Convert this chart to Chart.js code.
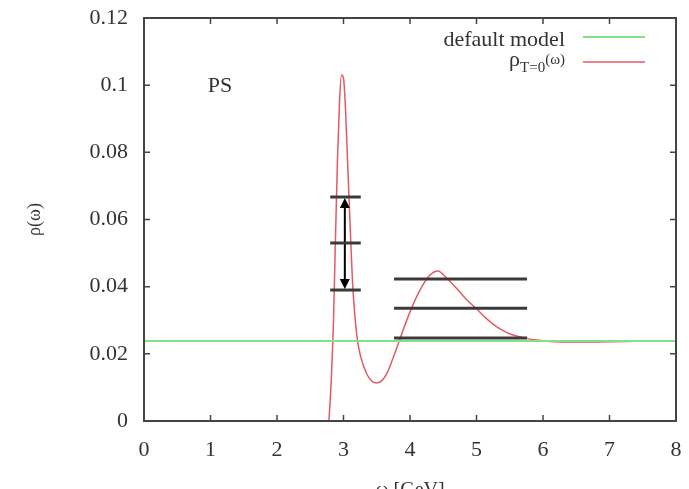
<!DOCTYPE html>
<html>
<head>
<meta charset="utf-8">
<script src="https://cdn.jsdelivr.net/npm/chart.js@4.4.0/dist/chart.umd.min.js"></script>
<style>
  body { margin: 0; background: #fff; }
  #wrap { width: 689px; height: 489px; }
</style>
</head>
<body>
<div id="wrap"><canvas id="c" width="689" height="489"></canvas></div>
<script>
// spectral function rho_T=0(omega)
const omega = [2.76, 2.78, 2.82, 2.85, 2.88, 2.91, 2.94, 2.97, 3.00, 3.03, 3.06, 3.10, 3.14, 3.20, 3.26,
               3.35, 3.42, 3.50, 3.58, 3.66, 3.75, 3.85, 4.00, 4.15, 4.30, 4.42, 4.55, 4.70, 4.85, 5.00, 5.15,
               5.30, 5.45, 5.60, 5.75, 5.90, 6.10, 6.50, 7.00, 7.50, 8.00];
const rho = [-0.004, 0.0, 0.014, 0.030, 0.055, 0.078, 0.095, 0.103, 0.102, 0.093, 0.078, 0.058, 0.040, 0.0255, 0.0190,
             0.0140, 0.0120, 0.0113, 0.0121, 0.0145, 0.0190, 0.0245, 0.0325, 0.0390, 0.0435, 0.0447, 0.0426, 0.0395, 0.0362, 0.0334, 0.0305,
             0.0281, 0.0264, 0.0253, 0.0246, 0.0241, 0.0237, 0.0235, 0.0236, 0.0238, 0.0239];

const defaultModel = 0.0238;
const xRange = [0, 8];

// error-level bars: left group near the first peak, right group over the second bump
const leftBarX = [2.80, 3.26];
const leftBarY = [0.0667, 0.053, 0.039];
const rightBarX = [3.76, 5.76];
const rightBarY = [0.0423, 0.0336, 0.0247];
const arrowX = 3.02;
const arrowY = [0.065, 0.0405];

const xTicks = [0, 1, 2, 3, 4, 5, 6, 7, 8];
const yTicks = [0, 0.02, 0.04, 0.06, 0.08, 0.1, 0.12];

const serif = '"Liberation Serif", "DejaVu Serif", serif';
const red = 'rgb(228,90,100)';
const green = 'rgb(130,225,130)';

let datasets = [];
datasets.push({
    label: 'default model',
    data: xRange.map(x => ({x: x, y: defaultModel})),
    borderColor: green,
    borderWidth: 2,
    pointRadius: 0
});
leftBarY.forEach(v => datasets.push({
    data: leftBarX.map(x => ({x: x, y: v})),
    borderColor: '#3a3a3a', borderWidth: 3, pointRadius: 0
}));
rightBarY.forEach(v => datasets.push({
    data: rightBarX.map(x => ({x: x, y: v})),
    borderColor: '#3a3a3a', borderWidth: 3, pointRadius: 0
}));
datasets.push({
    label: 'arrow',
    data: arrowY.map(y => ({x: arrowX, y: y})),
    borderColor: '#000', borderWidth: 2, pointRadius: 0
});
datasets.push({
    label: 'rho',
    data: omega.map((x, i) => ({x: x, y: rho[i]})),
    borderColor: red,
    borderWidth: 1.5,
    pointRadius: 0,
    cubicInterpolationMode: 'monotone'
});

const framePlugin = {
    id: 'frame',
    afterDatasetsDraw(chart) {
        const ctx = chart.ctx, a = chart.chartArea;
        const xs = chart.scales.x, ys = chart.scales.y;
        ctx.save();
        // arrow heads
        const ax = xs.getPixelForValue(arrowX);
        const yTop = ys.getPixelForValue(leftBarY[0]);
        const yBot = ys.getPixelForValue(leftBarY[2]);
        ctx.fillStyle = '#000';
        ctx.beginPath();
        ctx.moveTo(ax, yTop + 1); ctx.lineTo(ax - 5, yTop + 11); ctx.lineTo(ax + 5, yTop + 11);
        ctx.closePath(); ctx.fill();
        ctx.beginPath();
        ctx.moveTo(ax, yBot - 1); ctx.lineTo(ax - 5, yBot - 11); ctx.lineTo(ax + 5, yBot - 11);
        ctx.closePath(); ctx.fill();

        // box and inward ticks
        ctx.strokeStyle = '#444';
        ctx.lineWidth = 2;
        ctx.strokeRect(a.left, a.top, a.right - a.left, a.bottom - a.top);
        ctx.lineWidth = 1.5;
        ctx.beginPath();
        xTicks.forEach(t => {
            const px = xs.getPixelForValue(t);
            ctx.moveTo(px, a.bottom); ctx.lineTo(px, a.bottom - 6);
            ctx.moveTo(px, a.top); ctx.lineTo(px, a.top + 6);
        });
        yTicks.forEach(t => {
            const py = ys.getPixelForValue(t);
            ctx.moveTo(a.left, py); ctx.lineTo(a.left + 6, py);
            ctx.moveTo(a.right, py); ctx.lineTo(a.right - 6, py);
        });
        ctx.stroke();

        // label inside the plot
        ctx.fillStyle = '#333';
        ctx.font = '22px ' + serif;
        ctx.textBaseline = 'alphabetic';
        ctx.textAlign = 'left';
        ctx.fillText('PS', xs.getPixelForValue(0.96), ys.getPixelForValue(0.098));

        // legend
        const rx = 565;
        ctx.textAlign = 'right';
        ctx.fillText('default model', rx, 46);
        ctx.font = '15px ' + serif;
        const w3 = ctx.measureText('(ω)').width;
        ctx.fillText('(ω)', rx, 64);
        const w2 = ctx.measureText('T=0').width;
        ctx.fillText('T=0', rx - w3, 72);
        ctx.font = '22px ' + serif;
        ctx.fillText('ρ', rx - w3 - w2, 66);

        ctx.lineWidth = 2;
        ctx.strokeStyle = green;
        ctx.beginPath(); ctx.moveTo(583, 37); ctx.lineTo(645, 37); ctx.stroke();
        ctx.lineWidth = 1.5;
        ctx.strokeStyle = red;
        ctx.beginPath(); ctx.moveTo(583, 62); ctx.lineTo(645, 62); ctx.stroke();
        ctx.restore();
    }
};

new Chart(document.getElementById('c'), {
    type: 'line',
    data: { datasets: datasets },
    options: {
        responsive: false,
        animation: false,
        layout: { padding: { top: 18, right: 13, left: 0, bottom: 0 } },
        plugins: { legend: { display: false }, tooltip: { enabled: false } },
        scales: {
            x: {
                type: 'linear', min: 0, max: 8,
                afterBuildTicks: s => { s.ticks = xTicks.map(v => ({value: v})); },
                afterFit: s => { s.height = 68; s.paddingLeft = 0; s.paddingRight = 0; },
                grid: { display: false, drawTicks: false },
                border: { display: false },
                ticks: { color: '#333', font: { family: serif, size: 22 }, padding: 16, maxRotation: 0 },
                title: { display: true, text: 'ω [GeV]', color: '#333', font: { family: serif, size: 20 }, padding: { top: 0, bottom: -14 } }
            },
            y: {
                min: 0, max: 0.12,
                afterBuildTicks: s => { s.ticks = yTicks.map(v => ({value: v})); },
                afterFit: s => { s.width = 144; s.paddingTop = 0; s.paddingBottom = 0; },
                grid: { display: false, drawTicks: false },
                border: { display: false },
                ticks: { color: '#333', font: { family: serif, size: 22 }, padding: 16,
                         callback: v => String(+v.toFixed(2)) },
                title: { display: true, text: 'ρ(ω)', color: '#333', font: { family: serif, size: 18 }, padding: { top: 24, bottom: 0 } }
            }
        }
    },
    plugins: [framePlugin]
});
</script>
</body>
</html>
